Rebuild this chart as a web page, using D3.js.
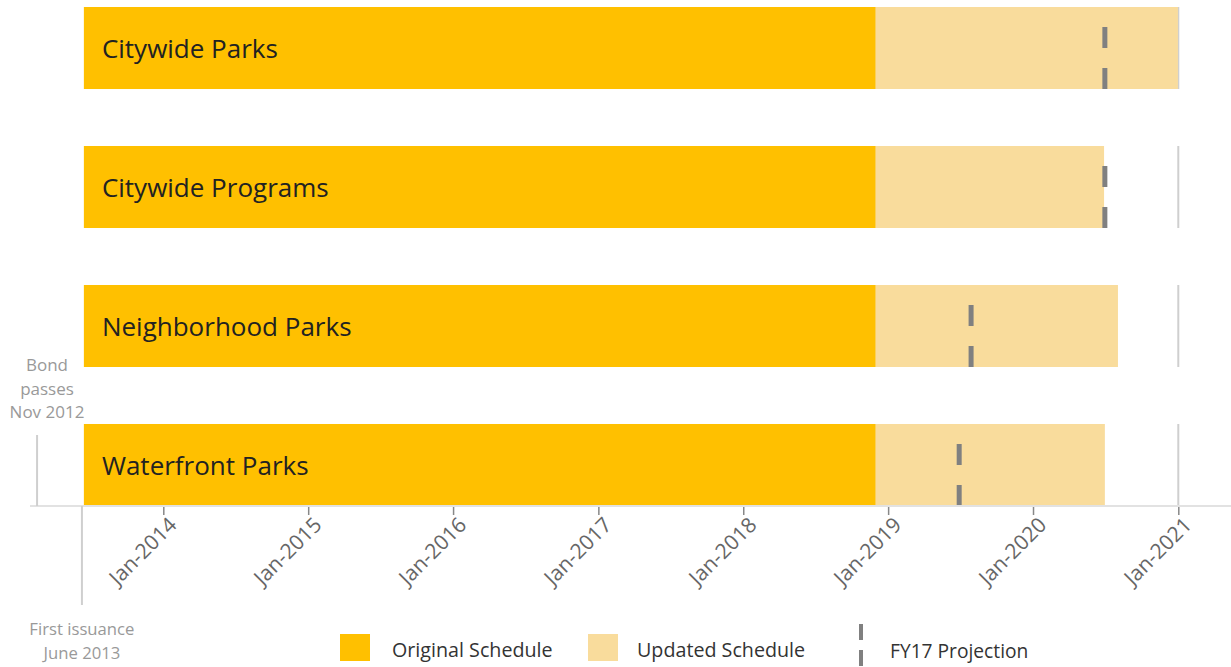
<!DOCTYPE html>
<meta charset="utf-8">
<title>Parks Bond Schedule</title>
<style>
body { margin: 0; background: #fff; }
svg { font-family: "Open Sans", "Noto Sans", sans-serif; }
</style>
<script src="https://d3js.org/d3.v7.min.js"></script>
<div id="chart"></div>
<script>

var width = 1231,
    height = 667;

// data
var programs = ["Citywide Parks", "Citywide Programs", "Neighborhood Parks", "Waterfront Parks"];
var startDates = ["2013-06-15", "2013-06-15", "2013-06-15", "2013-06-15"];
var originalEnd = ["2018-11-30", "2018-11-30", "2018-11-30", "2018-11-30"];
var updatedEnd = ["2020-12-31", "2020-06-28", "2020-08-02", "2020-06-30"];
var fy17Projection = ["2020-06-30", "2020-06-30", "2019-07-29", "2019-06-29"];
var tickDates = ["2014-01-01", "2015-01-01", "2016-01-01", "2017-01-01",
                 "2018-01-01", "2019-01-01", "2020-01-01", "2021-01-01"];
var bondPassDate = "2013-02-17";   // where the "Bond passes" marker sits
var firstIssuance = "2013-06-10";
var endLine = "2021-01-01";

var parse = d3.utcParse("%Y-%m-%d");

var orig = "#ffc000",
    upd = "#f9dc9c",
    proj = "#808080";

var svg = d3.select("#chart").append("svg")
    .attr("width", width)
    .attr("height", height);

var x = d3.scaleUtc()
    .domain([parse("2014-01-01"), parse("2021-01-01")])
    .range([163.3, 1178.3]);

var y = d3.scaleBand()
    .domain(programs)
    .range([7, 506])
    .paddingInner(0.41)
    .paddingOuter(0);

var rows = programs.map(function(p, i) {
  return {
    name: p,
    start: parse(startDates[i]),
    origEnd: parse(originalEnd[i]),
    updEnd: parse(updatedEnd[i]),
    proj: parse(fy17Projection[i])
  };
});

// Jan-2021 reference line inside every row
svg.append("g").selectAll("line")
    .data(rows)
  .enter().append("line")
    .attr("x1", x(parse(endLine)))
    .attr("x2", x(parse(endLine)))
    .attr("y1", function(d) { return y(d.name); })
    .attr("y2", function(d) { return y(d.name) + y.bandwidth(); })
    .attr("stroke", "#cfcfcf")
    .attr("stroke-width", 2);

// updated schedule
svg.append("g").selectAll("rect")
    .data(rows)
  .enter().append("rect")
    .attr("x", function(d) { return x(d.start); })
    .attr("y", function(d) { return y(d.name); })
    .attr("width", function(d) { return x(d.updEnd) - x(d.start); })
    .attr("height", y.bandwidth())
    .attr("fill", upd);

// original schedule
svg.append("g").selectAll("rect")
    .data(rows)
  .enter().append("rect")
    .attr("x", function(d) { return x(d.start); })
    .attr("y", function(d) { return y(d.name); })
    .attr("width", function(d) { return x(d.origEnd) - x(d.start); })
    .attr("height", y.bandwidth())
    .attr("fill", orig);

// FY17 projection, a dashed vertical mark
svg.append("g").selectAll("line")
    .data(rows)
  .enter().append("line")
    .attr("x1", function(d) { return x(d.proj); })
    .attr("x2", function(d) { return x(d.proj); })
    .attr("y1", function(d) { return y(d.name) + 20; })
    .attr("y2", function(d) { return y(d.name) + y.bandwidth(); })
    .attr("stroke", proj)
    .attr("stroke-width", 5)
    .attr("stroke-dasharray", "21,20");

svg.append("g").selectAll("text")
    .data(rows)
  .enter().append("text")
    .attr("x", function(d) { return x(d.start) + 18; })
    .attr("y", function(d) { return y(d.name) + y.bandwidth() / 2; })
    .attr("dy", "0.38em")
    .attr("fill", "#222")
    .style("font-size", "26px")
    .text(function(d) { return d.name; });

// axis
var axisY = 506;
svg.append("line")
    .attr("x1", 30).attr("x2", width)
    .attr("y1", axisY).attr("y2", axisY)
    .attr("stroke", "#e2e2e2")
    .attr("stroke-width", 2);

var axis = svg.append("g")
    .attr("transform", "translate(0," + axisY + ")")
    .call(d3.axisBottom(x)
      .tickValues(tickDates.map(parse))
      .tickSize(9)
      .tickSizeOuter(0)
      .tickFormat(d3.utcFormat("Jan-%Y")));

axis.select(".domain").remove();
axis.selectAll(".tick line")
    .attr("stroke", "#888")
    .attr("stroke-width", 1.5)
    .attr("y1", 1);
axis.selectAll(".tick text")
    .attr("fill", "#666")
    .style("font-size", "21px")
    .style("font-family", "'Open Sans', sans-serif")
    .attr("text-anchor", "end")
    .attr("transform", "translate(9,15) rotate(-45)")
    .attr("dy", "0.35em")
    .attr("y", 0)
    .attr("x", 0);

// annotations
var bondX = x(parse(bondPassDate));
svg.append("line")
    .attr("x1", bondX).attr("x2", bondX)
    .attr("y1", 435).attr("y2", axisY)
    .attr("stroke", "#cfcfcf")
    .attr("stroke-width", 2);

svg.append("text")
    .attr("x", 47)
    .attr("y", 371)
    .attr("text-anchor", "middle")
    .attr("fill", "#999")
    .style("font-size", "17px")
    .selectAll("tspan")
    .data(["Bond", "passes", "Nov 2012"])
  .enter().append("tspan")
    .attr("x", 47)
    .attr("dy", function(d, i) { return i ? 23.5 : 0; })
    .text(function(d) { return d; });

var issueX = x(parse(firstIssuance));
svg.append("line")
    .attr("x1", issueX).attr("x2", issueX)
    .attr("y1", axisY).attr("y2", 605)
    .attr("stroke", "#cfcfcf")
    .attr("stroke-width", 2);

svg.append("text")
    .attr("text-anchor", "middle")
    .attr("fill", "#999")
    .style("font-size", "16.7px")
    .selectAll("tspan")
    .data(["First issuance", "June 2013"])
  .enter().append("tspan")
    .attr("x", issueX)
    .attr("y", function(d, i) { return 635 + i * 24; })
    .text(function(d) { return d; });

// legend
var legend = svg.append("g");
var legItems = [
  {label: "Original Schedule", color: orig, x: 340, tx: 392},
  {label: "Updated Schedule", color: upd, x: 588, tx: 637}
];
legItems.forEach(function(it) {
  legend.append("rect")
      .attr("x", it.x).attr("y", 634)
      .attr("width", 30).attr("height", 27)
      .attr("fill", it.color);
  legend.append("text")
      .attr("x", it.tx).attr("y", 650)
      .attr("dy", "0.35em")
      .attr("fill", "#333")
      .style("font-size", "19.7px")
      .text(it.label);
});
legend.append("line")
    .attr("x1", 861).attr("x2", 861)
    .attr("y1", 624).attr("y2", 667)
    .attr("stroke", proj)
    .attr("stroke-width", 4)
    .attr("stroke-dasharray", "16,10");
legend.append("text")
    .attr("x", 890).attr("y", 651)
    .attr("dy", "0.35em")
    .attr("fill", "#333")
    .style("font-size", "19.2px")
    .text("FY17 Projection");

</script>
